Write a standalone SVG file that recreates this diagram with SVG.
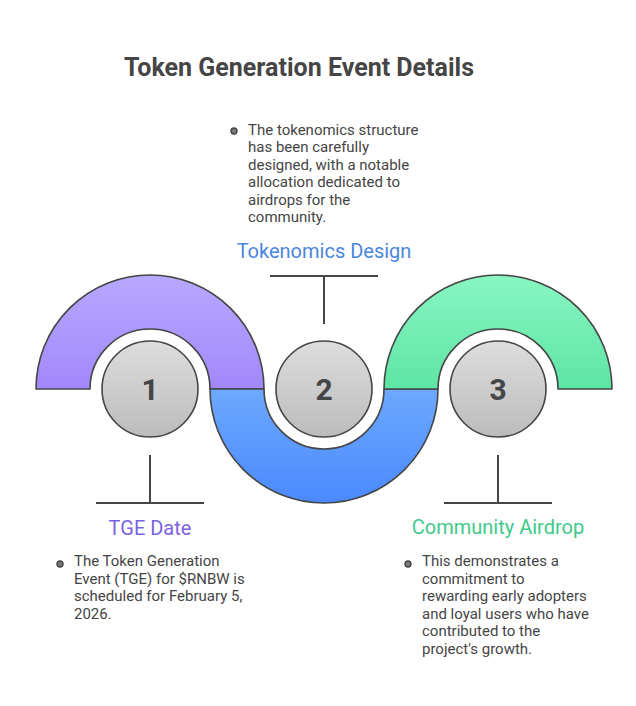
<svg xmlns="http://www.w3.org/2000/svg" width="636" height="706" viewBox="0 0 636 706">
<style>
.band{stroke:#454545;stroke-width:1.6;stroke-linejoin:round}
.num{fill:url(#gGrey);stroke:#454545;stroke-width:1.6}
.numt{font-family:Roboto,"Liberation Sans",sans-serif;font-size:30px;font-weight:bold;fill:#454545;text-anchor:middle}
.conn{stroke:#454545;stroke-width:2;fill:none}
.body{font-family:Roboto,"Liberation Sans",sans-serif;font-size:15px;fill:#454545}
.lbl{font-family:Roboto,"Liberation Sans",sans-serif;font-size:20px;text-anchor:middle}
.bul{fill:#7a7a7a;stroke:#454545;stroke-width:1.4}
</style>
<defs>
<linearGradient id="gPurple" x1="0" y1="0" x2="0" y2="1"><stop offset="0" stop-color="#b8a8ff"/><stop offset="1" stop-color="#a188fa"/></linearGradient>
<linearGradient id="gBlue" x1="0" y1="0" x2="0" y2="1"><stop offset="0" stop-color="#6ca9ff"/><stop offset="1" stop-color="#4a89fd"/></linearGradient>
<linearGradient id="gGreen" x1="0" y1="0" x2="0" y2="1"><stop offset="0" stop-color="#88f6c2"/><stop offset="1" stop-color="#5de5a3"/></linearGradient>
<linearGradient id="gGrey" x1="0" y1="0" x2="0" y2="1"><stop offset="0" stop-color="#dddddd"/><stop offset="1" stop-color="#bcbcbc"/></linearGradient>
</defs>
<rect width="636" height="706" fill="#ffffff"/>
<text x="299" y="76" font-family="Roboto,'Liberation Sans',sans-serif" font-size="25" font-weight="bold" fill="#454545" text-anchor="middle">Token Generation Event Details</text>

<g id="connectors">
<path class="conn" d="M270,276 H378 M324,276 V324"/>
<path class="conn" d="M96,503 H204 M150,503 V455"/>
<path class="conn" d="M444,503 H552 M498,503 V455"/>
</g>

<g id="node1">
<path class="band" fill="url(#gPurple)" d="M36,389 A114,114 0 0 1 264,389 L210,389 A60,60 0 0 0 90,389 Z"/>
<circle class="num" cx="150" cy="389" r="48"/>
<text class="numt" x="150" y="400">1</text>
<text class="lbl" x="150" y="535" fill="#7b62e0">TGE Date</text>
<circle class="bul" cx="60" cy="564" r="3"/>
<text class="body"><tspan x="74" y="566">The Token Generation</tspan><tspan x="74" y="583.5">Event (TGE) for $RNBW is</tspan><tspan x="74" y="601">scheduled for February 5,</tspan><tspan x="74" y="618.5">2026.</tspan></text>
</g>

<g id="node2">
<path class="band" fill="url(#gBlue)" d="M210,389 A114,114 0 0 0 438,389 L384,389 A60,60 0 0 1 264,389 Z"/>
<circle class="num" cx="324" cy="389" r="48"/>
<text class="numt" x="324" y="400">2</text>
<text class="lbl" x="324" y="258" fill="#4a86de">Tokenomics Design</text>
<circle class="bul" cx="234" cy="131" r="3"/>
<text class="body"><tspan x="248" y="134.5">The tokenomics structure</tspan><tspan x="248" y="152">has been carefully</tspan><tspan x="248" y="169.5">designed, with a notable</tspan><tspan x="248" y="187">allocation dedicated to</tspan><tspan x="248" y="204.5">airdrops for the</tspan><tspan x="248" y="222">community.</tspan></text>
</g>

<g id="node3">
<path class="band" fill="url(#gGreen)" d="M384,389 A114,114 0 0 1 612,389 L558,389 A60,60 0 0 0 438,389 Z"/>
<circle class="num" cx="498" cy="389" r="48"/>
<text class="numt" x="498" y="400">3</text>
<text class="lbl" x="498" y="534" fill="#3ec98a">Community Airdrop</text>
<circle class="bul" cx="408" cy="564" r="3"/>
<text class="body"><tspan x="422" y="566">This demonstrates a</tspan><tspan x="422" y="583.5">commitment to</tspan><tspan x="422" y="601">rewarding early adopters</tspan><tspan x="422" y="618.5">and loyal users who have</tspan><tspan x="422" y="636">contributed to the</tspan><tspan x="422" y="653.5">project's growth.</tspan></text>
</g>
</svg>
